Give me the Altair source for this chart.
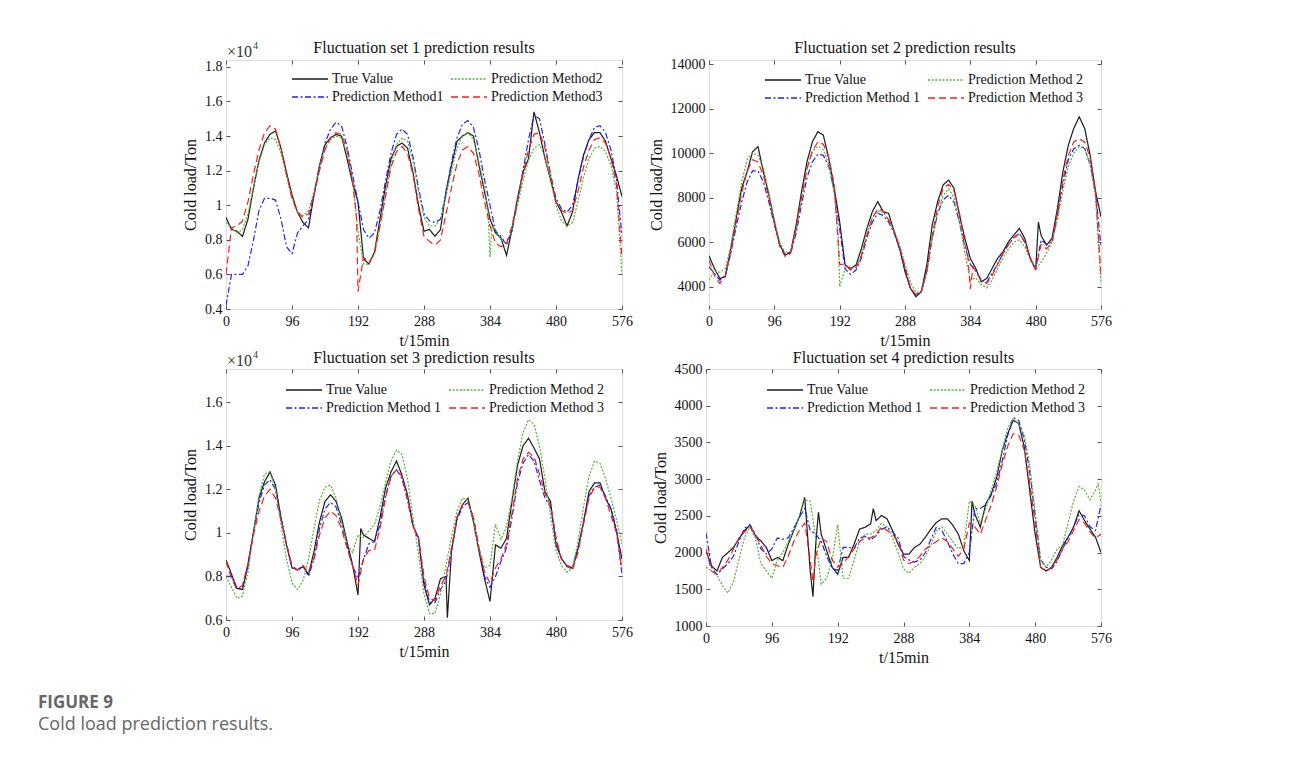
import altair as alt
import pandas as pd

# ---------------- data (x in 15-min steps) ----------------
X = list(range(0, 577, 8))

# Panel 1 (x10^4 Ton)
P1_TRUE = [0.93,0.86,0.85,0.82,0.92,1.10,1.26,1.36,1.41,1.43,1.33,1.19,1.06,0.96,0.90,0.87,1.06,1.23,1.35,1.39,
           1.41,1.40,1.27,1.13,1.02,0.69,0.66,0.73,0.92,1.11,1.27,1.34,1.36,1.33,1.19,1.00,0.85,0.86,0.82,0.86,
           1.08,1.23,1.37,1.40,1.42,1.40,1.23,1.08,0.92,0.84,0.81,0.71,0.86,1.04,1.19,1.27,1.54,1.42,1.27,1.15,
           1.02,0.96,0.88,0.96,1.15,1.29,1.38,1.42,1.42,1.37,1.27,1.17,1.05]
P1_M1 = [0.42,0.60,0.60,0.60,0.65,0.80,0.97,1.04,1.04,1.03,0.92,0.76,0.72,0.84,0.88,0.92,1.06,1.22,1.36,1.44,
         1.48,1.46,1.34,1.18,1.02,0.86,0.81,0.84,0.97,1.14,1.30,1.41,1.44,1.41,1.28,1.10,0.95,0.91,0.90,0.92,
         1.07,1.25,1.39,1.47,1.49,1.45,1.32,1.15,1.00,0.85,0.82,0.77,0.85,1.02,1.20,1.38,1.52,1.50,1.35,1.18,
         1.04,0.98,0.96,1.00,1.14,1.28,1.38,1.45,1.46,1.42,1.32,1.15,0.82]
P1_M2 = [0.90,0.87,0.84,0.86,0.95,1.10,1.25,1.35,1.39,1.38,1.30,1.17,1.04,0.96,0.94,0.97,1.08,1.22,1.33,1.38,
         1.40,1.39,1.30,1.15,0.85,0.66,0.66,0.72,0.88,1.06,1.24,1.35,1.39,1.37,1.26,1.08,0.93,0.88,0.88,0.92,
         1.05,1.20,1.33,1.40,1.42,1.38,1.25,1.10,0.70,0.86,0.80,0.78,0.86,1.00,1.14,1.26,1.33,1.35,1.28,1.15,
         1.00,0.91,0.88,0.90,1.02,1.16,1.27,1.33,1.34,1.31,1.23,1.08,0.60]
P1_M3 = [0.60,0.87,0.88,0.91,1.02,1.18,1.32,1.42,1.46,1.44,1.33,1.18,1.04,0.96,0.93,0.95,1.06,1.20,1.32,1.39,
         1.42,1.41,1.32,1.15,0.50,0.70,0.67,0.72,0.88,1.05,1.22,1.31,1.34,1.30,1.18,0.98,0.82,0.79,0.77,0.80,
         0.95,1.10,1.24,1.32,1.34,1.30,1.18,1.02,0.88,0.78,0.76,0.78,0.88,1.03,1.18,1.32,1.41,1.42,1.33,1.18,
         1.02,0.97,0.95,0.97,1.08,1.22,1.32,1.38,1.39,1.36,1.27,1.12,0.70]
P1_M2_SPIKE_X = [381, 387]
P1_M2_SPIKE_Y = [0.98, 0.88]
P1_M3_SPIKE_X = [190]
P1_M3_SPIKE_Y = [0.92]

# Panel 2 (Ton)
P2_TRUE = [5390,4820,4370,4450,5720,7070,8420,9160,10060,10290,9160,8120,6920,5870,5420,5570,6770,8270,9610,10510,
           10960,10810,9760,8420,6920,4970,4820,4970,5720,6620,7370,7820,7370,7290,6470,5720,4670,3930,3550,3780,
           4970,6770,7820,8570,8790,8420,7220,6170,5270,4820,4220,4370,4820,5270,5570,6020,6320,6620,6170,5270,
           4750,6300,5870,6170,7520,9160,10360,11110,11630,11110,9910,8270,7140]
P2_M1 = [4900,4600,4300,4500,5500,6700,7800,8700,9200,9200,8700,7800,6800,5900,5450,5500,6400,7700,8900,9600,
         9950,9900,9400,8300,6600,4800,4550,4750,5300,6200,6900,7300,7200,6900,6400,5700,4800,3900,3650,3750,
         4700,6200,7300,7900,8100,7800,6900,5800,5000,4700,4300,4200,4600,5000,5500,5900,6200,6400,6000,5300,
         4800,6100,5900,6000,7200,8600,9700,10200,10350,10200,9500,8200,5800]
P2_M2 = [4300,4700,4650,4800,5800,7300,8700,9700,10000,9900,9300,8200,7000,6000,5500,5600,6600,8000,9300,10100,
         10300,10150,9500,8200,4000,4800,4800,4900,5500,6400,7100,7400,7350,7000,6500,5900,5000,4200,3750,3800,
         4600,6100,7300,8100,8400,8000,6900,5500,4300,4400,4100,3950,4300,4800,5300,5700,6000,6100,5800,5200,
         4800,5100,5500,6000,7000,8300,9400,10000,10300,10200,9500,8000,4100]
P2_M3 = [5200,4500,4150,4500,5600,6900,8200,9200,9700,9600,9000,8000,6900,5800,5350,5500,6600,8000,9300,10100,
         10500,10400,9800,8600,5000,5000,4750,4850,5400,6300,7100,7500,7400,7000,6500,5800,4900,3950,3650,3800,
         4700,6300,7600,8400,8600,8300,7300,5900,3900,4700,4300,4150,4500,5000,5500,5900,6200,6400,6000,5300,
         4800,5900,5700,6000,7300,8800,9900,10500,10650,10500,9800,8300,4500]
P2_TRUE_SPIKE_X = [484]
P2_TRUE_SPIKE_Y = [6900]
P2_M2_SPIKE_X = [190]
P2_M2_SPIKE_Y = [6200]
P2_M3_SPIKE_X = [380, 388]
P2_M3_SPIKE_Y = [5500, 4900]

# Panel 3 (x10^4 Ton)
P3_TRUE = [0.876,0.81,0.745,0.74,0.85,1.005,1.16,1.235,1.28,1.22,1.07,0.945,0.84,0.83,0.845,0.81,0.915,1.05,1.145,1.175,
           1.145,1.07,0.96,0.855,0.715,0.99,0.975,0.96,1.07,1.205,1.28,1.33,1.265,1.175,1.035,0.975,0.76,0.67,0.70,0.79,
           0.80,0.915,1.07,1.13,1.16,1.05,0.915,0.79,0.685,0.945,0.93,0.975,1.145,1.31,1.40,1.435,1.39,1.34,1.19,1.145,
           0.945,0.883,0.845,0.837,0.93,1.05,1.19,1.23,1.23,1.16,1.11,1.005,0.88]
P3_M1 = [0.80,0.80,0.74,0.75,0.86,1.00,1.14,1.22,1.245,1.20,1.07,0.95,0.84,0.83,0.85,0.80,0.88,1.02,1.11,1.14,
         1.12,1.04,0.94,0.85,0.79,0.88,0.95,0.96,1.04,1.17,1.26,1.29,1.25,1.15,1.03,0.97,0.78,0.68,0.68,0.74,
         0.78,0.92,1.06,1.12,1.14,1.07,0.93,0.80,0.75,0.80,0.87,0.93,1.07,1.23,1.32,1.36,1.33,1.24,1.16,1.12,
         0.97,0.88,0.85,0.84,0.92,1.05,1.17,1.21,1.22,1.17,1.11,1.02,0.81]
P3_M2 = [0.80,0.75,0.70,0.71,0.82,1.00,1.17,1.27,1.28,1.20,1.04,0.88,0.77,0.74,0.78,0.88,1.02,1.15,1.21,1.22,
         1.16,1.05,0.95,0.91,0.99,0.98,1.01,1.04,1.12,1.23,1.33,1.38,1.36,1.25,1.07,0.90,0.72,0.63,0.63,0.72,
         0.85,0.98,1.10,1.16,1.15,1.05,0.93,0.84,0.85,1.04,0.97,1.03,1.16,1.33,1.46,1.52,1.50,1.40,1.25,1.08,
         0.92,0.85,0.82,0.84,0.96,1.12,1.26,1.33,1.32,1.25,1.16,1.06,0.95]
P3_M3 = [0.87,0.79,0.74,0.76,0.86,0.99,1.10,1.17,1.20,1.16,1.06,0.95,0.85,0.83,0.85,0.82,0.88,0.99,1.07,1.10,
         1.08,1.02,0.93,0.85,0.76,0.88,0.92,0.92,1.02,1.16,1.26,1.29,1.26,1.16,1.03,0.98,0.80,0.70,0.69,0.76,
         0.80,0.93,1.07,1.13,1.14,1.07,0.93,0.82,0.77,0.84,0.88,0.95,1.09,1.25,1.34,1.37,1.35,1.27,1.18,1.13,
         0.98,0.88,0.85,0.83,0.91,1.04,1.16,1.21,1.21,1.16,1.08,1.00,0.83]
P3_TRUE_SPIKE_X = [196, 322]
P3_TRUE_SPIKE_Y = [1.02, 0.61]

# Panel 4 (Ton)
P4_TRUE = [2025,1820,1750,1935,2000,2070,2185,2300,2370,2230,2160,2070,1890,1935,1890,2115,2300,2480,2750,1750,
           2115,2250,2025,1800,1705,1935,1935,2115,2320,2345,2390,2435,2505,2460,2300,2115,1980,1980,2070,2115,
           2210,2320,2410,2460,2460,2370,2250,2025,1890,2525,2345,2665,2800,3030,3390,3620,3800,3760,3440,2845,
           2250,1800,1750,1800,1935,2095,2210,2345,2570,2435,2320,2210,2000]
P4_M1 = [2270,1800,1700,1780,1850,1950,2150,2330,2380,2250,2050,1980,2050,2200,2180,2200,2330,2480,2600,2300,
         2250,2150,1950,1780,1760,2070,2070,2060,2200,2220,2170,2230,2320,2350,2280,2200,1950,1900,1870,1900,
         2000,2180,2350,2300,2150,1980,1850,1850,2000,2600,2600,2650,2780,2950,3250,3600,3840,3800,3550,3100,
         2500,1900,1800,1780,1880,2050,2200,2350,2520,2500,2350,2300,2650]
P4_M2 = [1800,1750,1700,1550,1450,1600,1900,2200,2350,2200,1850,1750,1650,1900,2000,2150,2300,2500,2720,2700,
         2200,1570,1650,1900,2380,1650,1650,1900,2150,2250,2250,2300,2400,2350,2200,2000,1780,1720,1800,1850,
         1950,2100,2300,2350,2250,2150,2050,2100,2700,2650,2400,2600,2850,3100,3400,3700,3820,3750,3600,3200,
         2550,1900,1800,1900,2050,2100,2400,2700,2900,2850,2720,2850,2680]
P4_M3 = [2050,1750,1700,1800,1900,2050,2200,2280,2350,2250,2100,1950,1850,1820,1800,1950,2150,2300,2400,1900,
         1950,2200,2150,1900,1800,1850,1950,2050,2150,2200,2200,2250,2350,2300,2250,2150,1900,1850,1880,1950,
         2050,2100,2150,2200,2150,2050,1950,2050,2400,2350,2250,2450,2650,2900,3200,3450,3620,3600,3400,2950,
         2400,1800,1740,1800,1900,2050,2150,2300,2450,2400,2280,2200,2250]
P4_TRUE_SPIKE_X = [156, 164, 244, 388]
P4_TRUE_SPIKE_Y = [1400, 2550, 2600, 2700]
P4_M2_SPIKE_X = [572]
P4_M2_SPIKE_Y = [2950]
P4_M3_SPIKE_X = [156]
P4_M3_SPIKE_Y = [1600]

TITLES = ["Fluctuation set 1 prediction results", "Fluctuation set 2 prediction results",
          "Fluctuation set 3 prediction results", "Fluctuation set 4 prediction results"]
# legend order (column-major fill): True, M1 | M2, M3
NAMES_A = ["True Value", "Prediction Method1", "Prediction Method2", "Prediction Method3"]
NAMES_B = ["True Value", "Prediction Method 1", "Prediction Method 2", "Prediction Method 3"]
COLORS = ["#1a1a1a", "#1f1fff", "#4cb52b", "#ff1a1a"]
DASHES = [[1, 0], [6, 2.5, 2, 2.5], [2, 1.6], [7, 4]]
X_TICKS = [0, 96, 192, 288, 384, 480, 576]

SERIF = "Liberation Serif"
AXIS_COLOR = "#555555"


def series_frame(name, ys, sx=None, sy=None):
    pts = list(zip(X, ys))
    if sx:
        pts += list(zip(sx, sy))
    pts.sort(key=lambda p: p[0])
    return pd.DataFrame({"x": [p[0] for p in pts], "y": [p[1] for p in pts], "series": name})


def panel(frames, names, title, ydomain, yticks, yfmt, w, h, sci, lx, ly, ty):
    df = pd.concat(frames, ignore_index=True)
    order_map = {names[0]: 0, names[2]: 1, names[1]: 2, names[3]: 3}
    df["ord"] = df["series"].map(order_map)
    leg = alt.Legend(title=None, orient="none", legendX=lx, legendY=ly, columns=2,
                     symbolType="stroke", symbolSize=1296, symbolStrokeWidth=1.3, clipHeight=14,
                     labelFont=SERIF, labelFontSize=14, labelColor="#111", labelOffset=3,
                     columnPadding=6, rowPadding=4, padding=0, labelLimit=300)
    color = alt.Color("series:N", scale=alt.Scale(domain=names, range=COLORS), legend=leg)
    dash = alt.StrokeDash("series:N", scale=alt.Scale(domain=names, range=DASHES), legend=leg)
    xax = alt.Axis(values=X_TICKS, title="t/15min", grid=False, domain=False, tickSize=4, offset=-4,
                   tickColor=AXIS_COLOR, labelFont=SERIF, labelFontSize=14, labelColor="#111",
                   titleFont=SERIF, titleFontSize=16, titleFontWeight="normal", titleColor="#111",
                   labelPadding=5, titlePadding=4, labelFlush=False)
    yax = alt.Axis(values=yticks, format=yfmt, title="Cold load/Ton", grid=False, domain=False,
                   tickSize=4, offset=-4, tickColor=AXIS_COLOR, labelFont=SERIF, labelFontSize=14,
                   labelColor="#111", titleFont=SERIF, titleFontSize=16, titleFontWeight="normal",
                   titleColor="#111", labelPadding=4, titlePadding=6)
    xs = alt.Scale(domain=[0, 576], nice=False, zero=False)
    ys = alt.Scale(domain=ydomain, nice=False, zero=False)
    lines = alt.Chart(df).mark_line(strokeWidth=1.2, clip=True).encode(
        x=alt.X("x:Q", scale=xs, axis=xax),
        y=alt.Y("y:Q", scale=ys, axis=yax),
        color=color, strokeDash=dash, order=alt.Order("ord:Q"), detail="series:N")
    # inward ticks on top / right edges
    xtop = alt.Axis(values=X_TICKS, orient="top", labels=False, title=None, grid=False, domain=False,
                    tickSize=4, offset=-4, tickColor=AXIS_COLOR)
    yright = alt.Axis(values=yticks, orient="right", labels=False, title=None, grid=False, domain=False,
                      tickSize=4, offset=-4, tickColor=AXIS_COLOR)
    ghost = alt.Chart(df).mark_point(opacity=0).encode(
        x=alt.X("x:Q", scale=xs, axis=xtop), y=alt.Y("y:Q", scale=ys, axis=yright))
    tdf = pd.DataFrame({"t": [title]})
    ttl = alt.Chart(tdf).mark_text(font=SERIF, fontSize=16, color="#111", baseline="middle",
                                   align="center").encode(
        text="t:N", x=alt.value(w / 2), y=alt.value(ty))
    layers = [lines, ghost, ttl]
    if sci:
        s1 = alt.Chart(pd.DataFrame({"t": ["\u00d710"]})).mark_text(
            font=SERIF, fontSize=16, color="#333", align="left", baseline="middle").encode(
            text="t:N", x=alt.value(1), y=alt.value(-8))
        s2 = alt.Chart(pd.DataFrame({"t": ["4"]})).mark_text(
            font=SERIF, fontSize=10, color="#333", align="left", baseline="middle").encode(
            text="t:N", x=alt.value(27), y=alt.value(-14))
        layers += [s1, s2]
    return alt.layer(*layers).resolve_axis(x="independent", y="independent").properties(
        width=w, height=h)


p1 = panel([series_frame(NAMES_A[0], P1_TRUE), series_frame(NAMES_A[1], P1_M1),
            series_frame(NAMES_A[2], P1_M2, P1_M2_SPIKE_X, P1_M2_SPIKE_Y),
            series_frame(NAMES_A[3], P1_M3, P1_M3_SPIKE_X, P1_M3_SPIKE_Y)],
           NAMES_A, TITLES[0], [0.4, 1.84], [0.4, 0.6, 0.8, 1.0, 1.2, 1.4, 1.6, 1.8], "~g", 396, 249, True,
           65, 12, -12)
p2 = panel([series_frame(NAMES_B[0], P2_TRUE, P2_TRUE_SPIKE_X, P2_TRUE_SPIKE_Y),
            series_frame(NAMES_B[1], P2_M1),
            series_frame(NAMES_B[2], P2_M2, P2_M2_SPIKE_X, P2_M2_SPIKE_Y),
            series_frame(NAMES_B[3], P2_M3, P2_M3_SPIKE_X, P2_M3_SPIKE_Y)],
           NAMES_B, TITLES[1], [3000, 14180], [4000, 6000, 8000, 10000, 12000, 14000], "d", 392, 249, False,
           55, 13, -12)
p3 = panel([series_frame(NAMES_B[0], P3_TRUE, P3_TRUE_SPIKE_X, P3_TRUE_SPIKE_Y),
            series_frame(NAMES_B[1], P3_M1), series_frame(NAMES_B[2], P3_M2),
            series_frame(NAMES_B[3], P3_M3)],
           NAMES_B, TITLES[2], [0.6, 1.753], [0.6, 0.8, 1.0, 1.2, 1.4, 1.6], "~g", 396, 251, True,
           59, 14, -11)
p4 = panel([series_frame(NAMES_B[0], P4_TRUE, P4_TRUE_SPIKE_X, P4_TRUE_SPIKE_Y),
            series_frame(NAMES_B[1], P4_M1),
            series_frame(NAMES_B[2], P4_M2, P4_M2_SPIKE_X, P4_M2_SPIKE_Y),
            series_frame(NAMES_B[3], P4_M3, P4_M3_SPIKE_X, P4_M3_SPIKE_Y)],
           NAMES_B, TITLES[3], [1000, 4500], [1000, 1500, 2000, 2500, 3000, 3500, 4000, 4500], "d", 395, 257, False,
           60, 14, -11)

RES = dict(color="independent", strokeDash="independent")
row1 = alt.hconcat(p1, p2, spacing=14).resolve_scale(**RES).resolve_legend(color="independent", strokeDash="independent")
row2 = alt.hconcat(p3, p4, spacing=18).resolve_scale(**RES).resolve_legend(color="independent", strokeDash="independent")

chart = alt.vconcat(row1, row2, spacing=0).resolve_scale(**RES).resolve_legend(
    color="independent", strokeDash="independent").properties(
    title=alt.TitleParams(text="FIGURE 9", subtitle="Cold load prediction results.", orient="bottom",
                          anchor="start", dx=-144, offset=29, font="Open Sans", fontSize=17, fontWeight="bold",
                          color="#666666", subtitleFont="Open Sans", subtitleFontSize=18, subtitleColor="#666666",
                          subtitlePadding=4),
    padding={"left": 30, "top": 31, "right": 10, "bottom": 10}
).configure_view(stroke=AXIS_COLOR, strokeWidth=1).configure(background="white")

chart.save("out.html", embed_options={"renderer": "svg", "actions": False})
